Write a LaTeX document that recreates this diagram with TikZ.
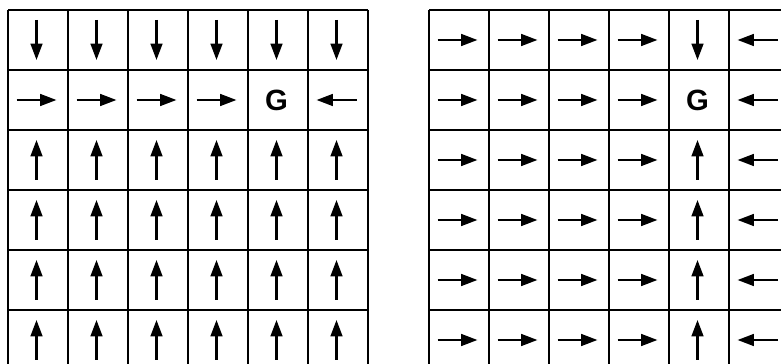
\documentclass[tikz,border=0pt]{standalone}
\usepackage{fontspec}
\setmainfont{Liberation Sans}
\usetikzlibrary{arrows.meta}
\tikzset{
  gridline/.style={line width=2pt},
  policy/.style={-{Triangle[length=14pt, width=10pt]}, line width=2pt},
  goal/.style={font=\fontsize{25}{25}\selectfont\bfseries, inner sep=0pt},
}
% angle of each policy arrow
\def\angd{-90}
\def\angu{90}
\def\angr{0}
\def\angl{180}

\begin{document}
\begin{tikzpicture}[x=0.03cm, y=0.03cm]
  \clip (0,0) rectangle (781,364);
  % two 6x6 grids, left edge of each
  \foreach \gx/\rows in {8/{{d,d,d,d,d,d},{r,r,r,r,g,l},{u,u,u,u,u,u},{u,u,u,u,u,u},{u,u,u,u,u,u},{u,u,u,u,u,u}},
                         429/{{r,r,r,r,d,l},{r,r,r,r,g,l},{r,r,r,r,u,l},{r,r,r,r,u,l},{r,r,r,r,u,l},{r,r,r,r,u,l}}} {
    \foreach \k in {0,...,6} {
      \draw[gridline] (\gx+60*\k,354) -- (\gx+60*\k,-6);
      \draw[gridline] (\gx,354-60*\k) -- (\gx+360,354-60*\k);
    }
    \foreach \row [count=\i] in \rows {
      \foreach \a [count=\j] in \row {
        \coordinate (c-\gx-\i-\j) at (\gx+60*\j-31.5,384-60*\i);
        \if g\a
          \node[goal] (goal-\gx) at (c-\gx-\i-\j) {G};
        \else
          \draw[policy] (c-\gx-\i-\j) ++(\csname ang\a\endcsname+180:20) -- ++(\csname ang\a\endcsname:40);
        \fi
      }
    }
  }
\end{tikzpicture}
\end{document}
